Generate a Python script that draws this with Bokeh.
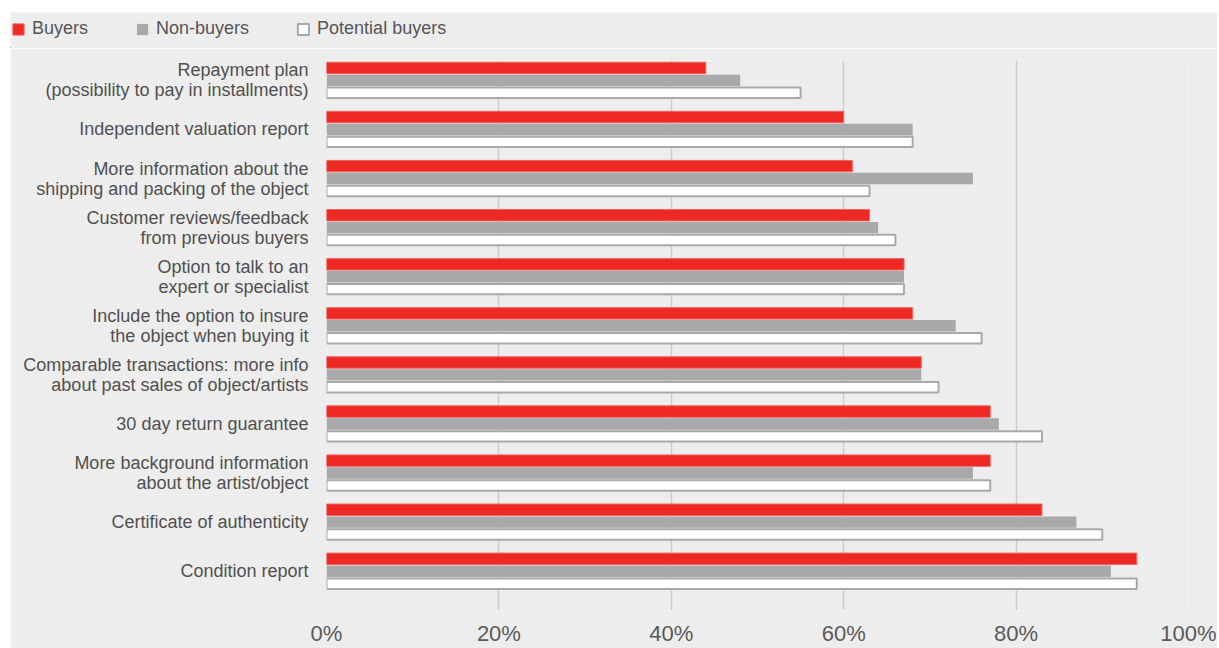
from bokeh.plotting import figure
from bokeh.layouts import column, row
from bokeh.models import (ColumnDataSource, Range1d, FixedTicker, Legend, LegendItem,
                          Plot, HBar)
from bokeh.transform import dodge
from bokeh.embed import file_html
from bokeh.resources import INLINE

categories = [
    "Repayment plan\n(possibility to pay in installments)",
    "Independent valuation report",
    "More information about the\nshipping and packing of the object",
    "Customer reviews/feedback\nfrom previous buyers",
    "Option to talk to an\nexpert or specialist",
    "Include the option to insure\nthe object when buying it",
    "Comparable transactions: more info\nabout past sales of object/artists",
    "30 day return guarantee",
    "More background information\nabout the artist/object",
    "Certificate of authenticity",
    "Condition report",
]
buyers = [44, 60, 61, 63, 67, 68, 69, 77, 77, 83, 94]
non_buyers = [48, 68, 75, 64, 67, 73, 69, 78, 75, 87, 91]
potential_buyers = [55, 68, 63, 66, 67, 76, 71, 83, 77, 90, 94]
x_ticks = [0, 20, 40, 60, 80, 100]
x_tick_labels = ["0%", "20%", "40%", "60%", "80%", "100%"]
series_names = ["Buyers", "Non-buyers", "Potential buyers"]
series_cols = ["buyers", "non", "pot"]
series_fill = ["#ee2824", "#a7a9ab", "#ffffff"]
series_line = ["#f06460", None, "#a7a9ab"]
series_lw = [1, 0, 2]

pos = list(range(len(categories)))
src = ColumnDataSource(dict(y=pos, buyers=buyers, non=non_buyers, pot=potential_buyers))

FONT = "Liberation Sans"
BG = "#ededed"

# ---- legend strip (a plain Plot without axes; its bars lie far outside its view) ----
lf = Plot(width=1207, height=36, output_backend="svg", toolbar_location=None,
          x_range=Range1d(1000, 1001), y_range=Range1d(1000, 1001), min_border=0,
          background_fill_color=BG, border_fill_color=BG, outline_line_color=None)
items = []
for name, col, fc, lc, lw in zip(series_names, series_cols, series_fill, series_line, series_lw):
    rr = lf.add_glyph(src, HBar(y="y", right=col, left=0, height=0.2, fill_color=fc,
                                line_color=lc, line_width=lw))
    items.append(LegendItem(label=name, renderers=[rr]))
legend = Legend(items=items, orientation="horizontal", location=(1, 9),
                glyph_width=14, glyph_height=14, label_standoff=7, spacing=47,
                padding=0, margin=0, background_fill_alpha=0, border_line_alpha=0,
                label_text_font=FONT, label_text_font_size="18px", label_text_color="#555555")
lf.add_layout(legend, "center")

# ---- main chart ----
p = figure(width=1207, height=600, output_backend="svg", toolbar_location=None,
           x_range=Range1d(0, 100), y_range=Range1d(10.80, -0.405),
           min_border_left=316, min_border_right=29, min_border_top=12, min_border_bottom=35,
           background_fill_color=BG, border_fill_color=BG, outline_line_color=None)

bh = 0.233
step = 0.253
offsets = [-step, 0, step]
heights = [bh, bh, bh - 0.02]
for col, fc, lc, lw, off, h in zip(series_cols, series_fill, series_line, series_lw, offsets, heights):
    p.hbar(y=dodge("y", off, range=p.y_range), right=col, left=0, height=h, source=src,
           fill_color=fc, line_color=lc, line_width=lw)

p.xaxis.ticker = FixedTicker(ticks=x_ticks)
p.xaxis.major_label_overrides = {t: l for t, l in zip(x_ticks, x_tick_labels)}
p.xaxis.axis_line_color = None
p.xaxis.major_tick_line_color = None
p.xaxis.minor_tick_line_color = None
p.xaxis.major_tick_out = 0
p.xaxis.major_tick_in = 0
p.xaxis.minor_tick_out = 0
p.xaxis.major_label_standoff = 10
p.xaxis.major_label_text_font = FONT
p.xaxis.major_label_text_font_size = "22px"
p.xaxis.major_label_text_color = "#5a5a5a"

p.yaxis.ticker = FixedTicker(ticks=pos)
p.yaxis.major_label_overrides = {i: c for i, c in zip(pos, categories)}
p.yaxis.axis_line_color = None
p.yaxis.major_tick_line_color = None
p.yaxis.minor_tick_line_color = None
p.yaxis.major_tick_out = 0
p.yaxis.major_tick_in = 0
p.yaxis.minor_tick_out = 0
p.yaxis.major_label_standoff = 18
p.yaxis.major_label_text_font = FONT
p.yaxis.major_label_text_font_size = "18px"
p.yaxis.major_label_text_line_height = 1.0
p.yaxis.major_label_text_color = "#505050"
p.yaxis.major_label_text_align = "right"

p.xgrid.ticker = FixedTicker(ticks=x_ticks)
p.xgrid.grid_line_color = "#cdcdcd"
p.xgrid.grid_line_width = 1.5
p.ygrid.visible = False

layout = column(row(lf), p, spacing=0)
layout.margin = (12, 2, 0, 10)

open("out.html", "w").write(file_html(layout, INLINE))
